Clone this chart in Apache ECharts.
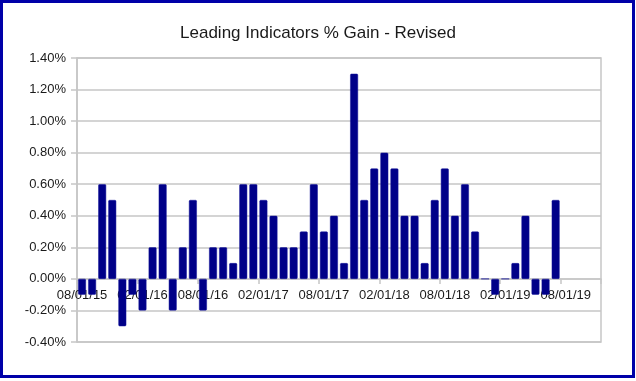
<!DOCTYPE html>
<html>
<head>
<meta charset="utf-8">
<script src="https://cdn.jsdelivr.net/npm/echarts@6/dist/echarts.min.js"></script>
<style>
html,body{margin:0;padding:0;background:#fff;}
#chart{width:636px;height:381px;}
</style>
</head>
<body>
<div id="chart"></div>
<script>
// Categories: monthly, Aug 2015 .. Nov 2019
const categories = [
  '08/01/15','09/01/15','10/01/15','11/01/15','12/01/15',
  '01/01/16','02/01/16','03/01/16','04/01/16','05/01/16','06/01/16','07/01/16',
  '08/01/16','09/01/16','10/01/16','11/01/16','12/01/16',
  '01/01/17','02/01/17','03/01/17','04/01/17','05/01/17','06/01/17','07/01/17',
  '08/01/17','09/01/17','10/01/17','11/01/17','12/01/17',
  '01/01/18','02/01/18','03/01/18','04/01/18','05/01/18','06/01/18','07/01/18',
  '08/01/18','09/01/18','10/01/18','11/01/18','12/01/18',
  '01/01/19','02/01/19','03/01/19','04/01/19','05/01/19','06/01/19','07/01/19',
  '08/01/19','09/01/19','10/01/19','11/01/19'
];
// Leading indicators % gain (percent)
const gains = [
  -0.1, -0.1, 0.6, 0.5, -0.3,
  -0.1, -0.2, 0.2, 0.6, -0.2, 0.2, 0.5,
  -0.2, 0.2, 0.2, 0.1, 0.6,
  0.6, 0.5, 0.4, 0.2, 0.2, 0.3, 0.6,
  0.3, 0.4, 0.1, 1.3, 0.5,
  0.7, 0.8, 0.7, 0.4, 0.4, 0.1, 0.5,
  0.7, 0.4, 0.6, 0.3, 0.0,
  -0.1, 0.0, 0.1, 0.4, -0.1, -0.1, 0.5,
  null, null, null, null
];
const yMin = -0.4, yMax = 1.4, yStep = 0.2;
const titleText = 'Leading Indicators % Gain - Revised';

const chart = echarts.init(document.getElementById('chart'), null, {renderer:'canvas'});
const gridColor = '#c6c6c6';
const font = "'Liberation Sans', Arial, sans-serif";
const gridTop = 58, gridBottomPx = 342;
// offset of the category axis from the bottom of the grid to the zero line
const zeroOffset = -((gridBottomPx - gridTop) * (0 - yMin) / (yMax - yMin));
chart.setOption({
  animation: false,
  backgroundColor: '#ffffff',
  title: {
    text: titleText,
    left: 'center',
    top: 20,
    textStyle: {fontFamily: font, fontSize: 17, fontWeight: 'normal', color: '#1a1a1a'}
  },
  graphic: [{
    type: 'rect',
    shape: {x: 1.5, y: 1.5, width: 632, height: 375},
    style: {fill: 'none', stroke: '#0000a8', lineWidth: 3},
    silent: true
  }],
  grid: {
    left: 77, right: 35, top: gridTop, bottom: 381 - gridBottomPx,
    show: true, borderColor: gridColor, borderWidth: 1.5, backgroundColor: 'transparent'
  },
  xAxis: {
    type: 'category',
    data: categories,
    boundaryGap: true,
    position: 'bottom',
    offset: zeroOffset,
    axisLine: {show: true, onZero: false, lineStyle: {color: gridColor, width: 1.5}},
    axisTick: {show: true, interval: 5, length: 5, lineStyle: {color: gridColor, width: 1.5}},
    axisLabel: {interval: 5, margin: 10, fontFamily: font, fontSize: 13, color: '#1a1a1a'},
    splitLine: {show: false}
  },
  yAxis: {
    type: 'value',
    min: yMin, max: yMax, interval: yStep,
    axisLine: {show: true, lineStyle: {color: gridColor, width: 1.5}},
    axisTick: {show: true, length: 6, lineStyle: {color: gridColor, width: 1.5}},
    axisLabel: {
      margin: 11, fontFamily: font, fontSize: 13, color: '#1a1a1a',
      formatter: v => v.toFixed(2) + '%'
    },
    splitLine: {show: true, lineStyle: {color: gridColor, width: 1.5}}
  },
  series: [{
    type: 'bar',
    data: gains,
    barWidth: '78%',
    z: 1,
    itemStyle: {color: '#000088', borderColor: '#14149a', borderWidth: 0.5, borderRadius: 1}
  }]
});
</script>
</body>
</html>
